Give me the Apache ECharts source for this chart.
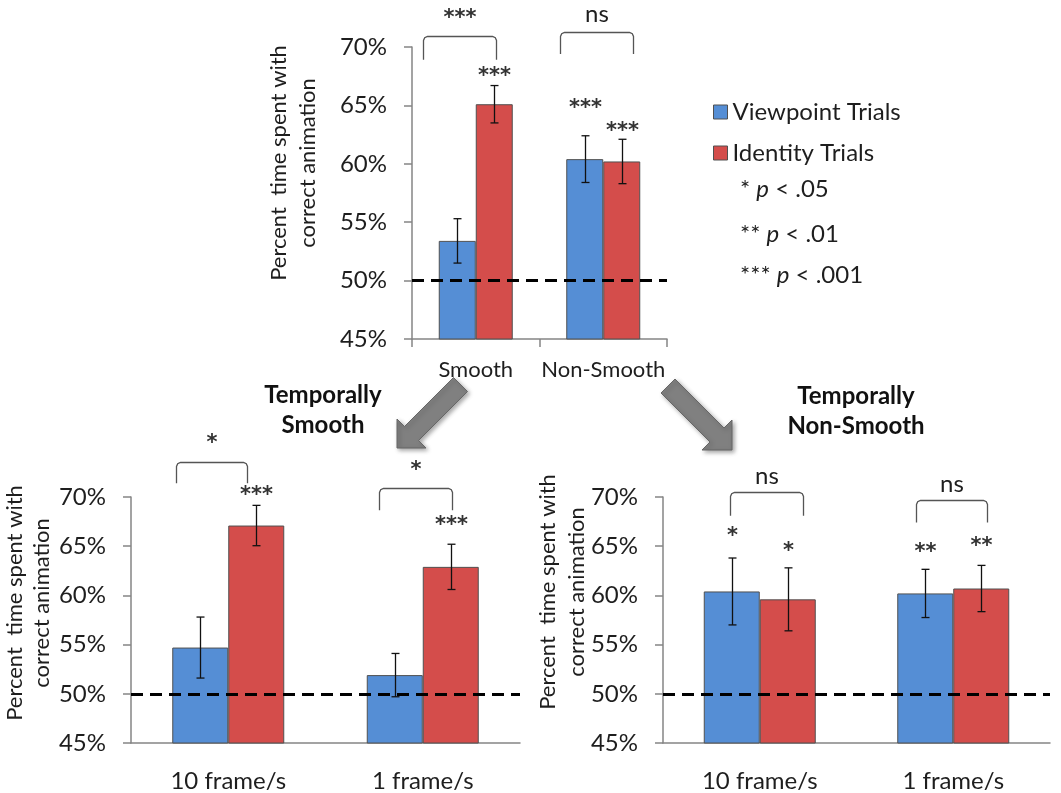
<!DOCTYPE html>
<html><head><meta charset="utf-8">
<script src="https://cdn.jsdelivr.net/npm/echarts@6/dist/echarts.min.js"></script>
<style>html,body{margin:0;padding:0;background:#fff}#c{width:1061px;height:793px}</style>
</head><body><div id="c"></div>
<script>
// ---------------- data ----------------
const seriesNames = ['Viewpoint Trials', 'Identity Trials'];
const yTicks = [45, 50, 55, 60, 65, 70];
const chanceLevel = 50;
const pValueNotes = [['*', '.05'], ['**', '.01'], ['***', '.001']];

const topCategories = ['Smooth', 'Non-Smooth'];
const topViewpoint = [53.4, 60.4];
const topViewpointErr = [1.9, 2.0];
const topIdentity = [65.1, 60.2];
const topIdentityErr = [1.6, 1.9];
const topViewpointStars = ['', '***'];
const topIdentityStars = ['***', '***'];
const topViewpointStarY = [null, 65.1];
const topIdentityStarY = [67.8, 63.1];
const topBracketLabels = ['***', 'ns'];
const topBracketTop = [70.9, 71.3];
const topBracketLeg = [68.9, 69.4];
const topBracketLabelY = [72.8, 72.7];

const smoothCategories = ['10 frame/s', '1 frame/s'];
const smoothViewpoint = [54.7, 51.9];
const smoothViewpointErr = [3.1, 2.2];
const smoothIdentity = [67.1, 62.9];
const smoothIdentityErr = [2.05, 2.3];
const smoothViewpointStars = ['', ''];
const smoothIdentityStars = ['***', '***'];
const smoothViewpointStarY = [null, null];
const smoothIdentityStarY = [70.6, 67.5];
const smoothBracketLabels = ['*', '*'];
const smoothBracketTop = [73.6, 70.9];
const smoothBracketLeg = [71.4, 68.65];
const smoothBracketLabelY = [75.8, 73.05];

const nonSmoothCategories = ['10 frame/s', '1 frame/s'];
const nonSmoothViewpoint = [60.4, 60.2];
const nonSmoothViewpointErr = [3.4, 2.45];
const nonSmoothIdentity = [59.6, 60.7];
const nonSmoothIdentityErr = [3.2, 2.35];
const nonSmoothViewpointStars = ['*', '**'];
const nonSmoothIdentityStars = ['*', '**'];
const nonSmoothViewpointStarY = [66.4, 64.8];
const nonSmoothIdentityStarY = [64.9, 65.4];
const nonSmoothBracketLabels = ['ns', 'ns'];
const nonSmoothBracketTop = [70.5, 69.7];
const nonSmoothBracketLeg = [68.1, 67.4];
const nonSmoothBracketLabelY = [72.0, 71.2];

// ---------------- style / layout ----------------
const FONT = 'Lato, "Open Sans", sans-serif';
const STAR_FONT = 'bold 21px "DejaVu Sans", sans-serif';
const COLORS = ['#558ED5', '#D44D4B'];
const AXIS = '#858585';
const TEXT = '#1e1e1e';
const layout = [
  { grid: { left: 412, top: 47, width: 255, height: 292 }, barWidth: 37, catFont: 22, catMargin: 20, xTicks: true,
    bracketX: [[-53, 20], [-43, 30]] },
  { grid: { left: 131, top: 497, width: 389, height: 246 }, barWidth: 56, catFont: 24, catMargin: 26, xTicks: false,
    bracketX: [[-52, 19], [-44, 29]] },
  { grid: { left: 663, top: 497, width: 387, height: 246 }, barWidth: 56, catFont: 24, catMargin: 26, xTicks: false,
    bracketX: [[-30, 43], [-37, 34]] }
];

const panels = [
  { cats: topCategories, vals: [topViewpoint, topIdentity], errs: [topViewpointErr, topIdentityErr],
    stars: [topViewpointStars, topIdentityStars], starY: [topViewpointStarY, topIdentityStarY],
    br: [topBracketLabels, topBracketTop, topBracketLeg, topBracketLabelY] },
  { cats: smoothCategories, vals: [smoothViewpoint, smoothIdentity], errs: [smoothViewpointErr, smoothIdentityErr],
    stars: [smoothViewpointStars, smoothIdentityStars], starY: [smoothViewpointStarY, smoothIdentityStarY],
    br: [smoothBracketLabels, smoothBracketTop, smoothBracketLeg, smoothBracketLabelY] },
  { cats: nonSmoothCategories, vals: [nonSmoothViewpoint, nonSmoothIdentity], errs: [nonSmoothViewpointErr, nonSmoothIdentityErr],
    stars: [nonSmoothViewpointStars, nonSmoothIdentityStars], starY: [nonSmoothViewpointStarY, nonSmoothIdentityStarY],
    br: [nonSmoothBracketLabels, nonSmoothBracketTop, nonSmoothBracketLeg, nonSmoothBracketLabelY] }
];

function isStars(s) { return /^\*+$/.test(s); }
function labelStyle(s, x, y) {
  return isStars(s)
    ? { text: s, x: x, y: y + 4, align: 'center', verticalAlign: 'middle', font: STAR_FONT, fill: '#333' }
    : { text: s, x: x, y: y - 1, align: 'center', verticalAlign: 'middle', font: '24px ' + FONT, fill: TEXT };
}

function errSeries(pi, si) {
  const P = panels[pi];
  const off = (si === 0 ? -1 : 1) * layout[pi].barWidth / 2;
  const stars = P.stars[si];
  return {
    type: 'custom', xAxisIndex: pi, yAxisIndex: pi, clip: false, silent: true, z: 6,
    data: P.vals[si].map((v, i) => [i, v - P.errs[si][i], v + P.errs[si][i], P.starY[si][i] == null ? 0 : P.starY[si][i]]),
    renderItem(params, api) {
      const i = api.value(0);
      const lo = api.coord([i, api.value(1)]), hi = api.coord([i, api.value(2)]);
      const x = Math.round(lo[0] + off) + 0.5, cap = 4;
      const st = { stroke: '#111', lineWidth: 1.3 };
      const ch = [
        { type: 'line', shape: { x1: x, y1: lo[1], x2: x, y2: hi[1] }, style: st },
        { type: 'line', shape: { x1: x - cap, y1: lo[1], x2: x + cap, y2: lo[1] }, style: st },
        { type: 'line', shape: { x1: x - cap, y1: hi[1], x2: x + cap, y2: hi[1] }, style: st }
      ];
      const s = stars[params.dataIndex];
      if (s) {
        const p = api.coord([i, api.value(3)]);
        ch.push({ type: 'text', style: labelStyle(s, x, p[1]) });
      }
      return { type: 'group', children: ch };
    }
  };
}

function bracketSeries(pi) {
  const P = panels[pi];
  const [labels, tops, legs, labY] = P.br;
  const bx = layout[pi].bracketX;
  return {
    type: 'custom', xAxisIndex: pi, yAxisIndex: pi, clip: false, silent: true, z: 6,
    data: labels.map((l, i) => [i, tops[i], legs[i], labY[i]]),
    renderItem(params, api) {
      const k = params.dataIndex, i = api.value(0);
      const t = api.coord([i, api.value(1)]), b = api.coord([i, api.value(2)]), lb = api.coord([i, api.value(3)]);
      const x1 = Math.round(t[0] + bx[k][0]) + 0.5, x2 = Math.round(t[0] + bx[k][1]) + 0.5;
      const yT = Math.round(t[1]) + 0.5, yB = b[1];
      const pts = [[x1, yB], [x1, yT + 4], [x1 + 1.2, yT + 1.2], [x1 + 4, yT], [x2 - 4, yT], [x2 - 1.2, yT + 1.2], [x2, yT + 4], [x2, yB]];
      const s = labels[k];
      return { type: 'group', children: [
        { type: 'polyline', shape: { points: pts }, style: { stroke: '#555', lineWidth: 1.3, fill: null } },
        { type: 'text', style: labelStyle(s, (x1 + x2) / 2, lb[1]) }
      ] };
    }
  };
}

const grid = [], xAxis = [], yAxis = [], series = [];
panels.forEach((P, pi) => {
  const L = layout[pi];
  grid.push(L.grid);
  xAxis.push({ type: 'category', gridIndex: pi, data: P.cats,
    axisLine: { lineStyle: { color: AXIS, width: 1.5 } },
    axisTick: { show: L.xTicks, length: 8, interval: 0, lineStyle: { color: AXIS, width: 1.5 } },
    axisLabel: { interval: 0, hideOverlap: false, fontSize: L.catFont, fontFamily: FONT, color: TEXT, margin: L.catMargin } });
  yAxis.push({ type: 'value', gridIndex: pi, min: yTicks[0], max: yTicks[yTicks.length - 1], interval: yTicks[1] - yTicks[0],
    axisLine: { show: true, lineStyle: { color: AXIS, width: 1.5 } },
    axisTick: { show: true, length: 8, lineStyle: { color: AXIS, width: 1.5 } },
    splitLine: { show: false },
    axisLabel: { formatter: '{value}%', fontSize: 24, fontFamily: FONT, color: TEXT, margin: 25 } });
  [0, 1].forEach(si => {
    const s = { type: 'bar', name: seriesNames[si], xAxisIndex: pi, yAxisIndex: pi, data: P.vals[si],
      barWidth: L.barWidth, barGap: '0%', z: 2,
      itemStyle: { color: COLORS[si], borderColor: '#505050', borderWidth: 1 } };
    if (si === 1) {
      s.markLine = { silent: true, symbol: 'none', z: 5, label: { show: false },
        lineStyle: { type: [12, 7], color: '#000', width: 3 },
        data: [{ yAxis: chanceLevel }] };
    }
    series.push(s);
  });
  series.push(errSeries(pi, 0), errSeries(pi, 1), bracketSeries(pi));
});

function arrow(pts) {
  return { type: 'polygon', shape: { points: pts }, z: 1,
    style: { fill: '#808080', stroke: '#666', lineWidth: 1, shadowBlur: 4, shadowOffsetX: 2, shadowOffsetY: 2, shadowColor: 'rgba(0,0,0,0.35)' } };
}

const YTITLE = 'Percent  time spent with\ncorrect animation';
const graphic = [
  { type: 'text', x: 293, y: 163, rotation: Math.PI / 2,
    style: { text: YTITLE, align: 'center', verticalAlign: 'middle', font: '22px ' + FONT, lineHeight: 29, fill: TEXT } },
  { type: 'text', x: 28, y: 603, rotation: Math.PI / 2,
    style: { text: YTITLE, align: 'center', verticalAlign: 'middle', font: '22px ' + FONT, lineHeight: 27, fill: TEXT } },
  { type: 'text', x: 562, y: 592, rotation: Math.PI / 2,
    style: { text: YTITLE, align: 'center', verticalAlign: 'middle', font: '22px ' + FONT, lineHeight: 29, fill: TEXT } },
  { type: 'text', x: 323, y: 410,
    style: { text: 'Temporally\nSmooth', align: 'center', verticalAlign: 'middle', font: 'bold 24px ' + FONT, lineHeight: 30, fill: '#111' } },
  { type: 'text', x: 856, y: 411,
    style: { text: 'Temporally\nNon-Smooth', align: 'center', verticalAlign: 'middle', font: 'bold 24px ' + FONT, lineHeight: 30, fill: '#111' } },
  arrow([[397, 448], [397, 419], [404.5, 426.5], [453.5, 377.5], [467.5, 391.5], [418.5, 440.5], [426, 448]]),
  arrow([[732, 450], [732, 420], [724, 428], [675, 379], [661, 393], [710, 442], [702, 450]])
];
pValueNotes.forEach((n, k) => {
  graphic.push({ type: 'text', x: 740, y: [189, 234, 275][k],
    style: { text: n[0] + ' {i|p} < ' + n[1], verticalAlign: 'middle', font: '24px ' + FONT, fill: TEXT,
      rich: { i: { fontStyle: 'italic', fontSize: 24, fontFamily: FONT, fill: TEXT, color: TEXT } } } });
});

const chart = echarts.init(document.getElementById('c'), null, { renderer: 'canvas' });
chart.setOption({
  animation: false,
  backgroundColor: '#fff',
  textStyle: { fontFamily: FONT },
  legend: { data: seriesNames, orient: 'vertical', left: 708, top: 95, itemWidth: 14, itemHeight: 14, itemGap: 17,
    icon: 'rect', selectedMode: false,
    itemStyle: { borderColor: '#505050', borderWidth: 1 },
    textStyle: { fontSize: 24, fontFamily: FONT, color: TEXT } },
  grid, xAxis, yAxis, series, graphic
});
</script></body></html>
